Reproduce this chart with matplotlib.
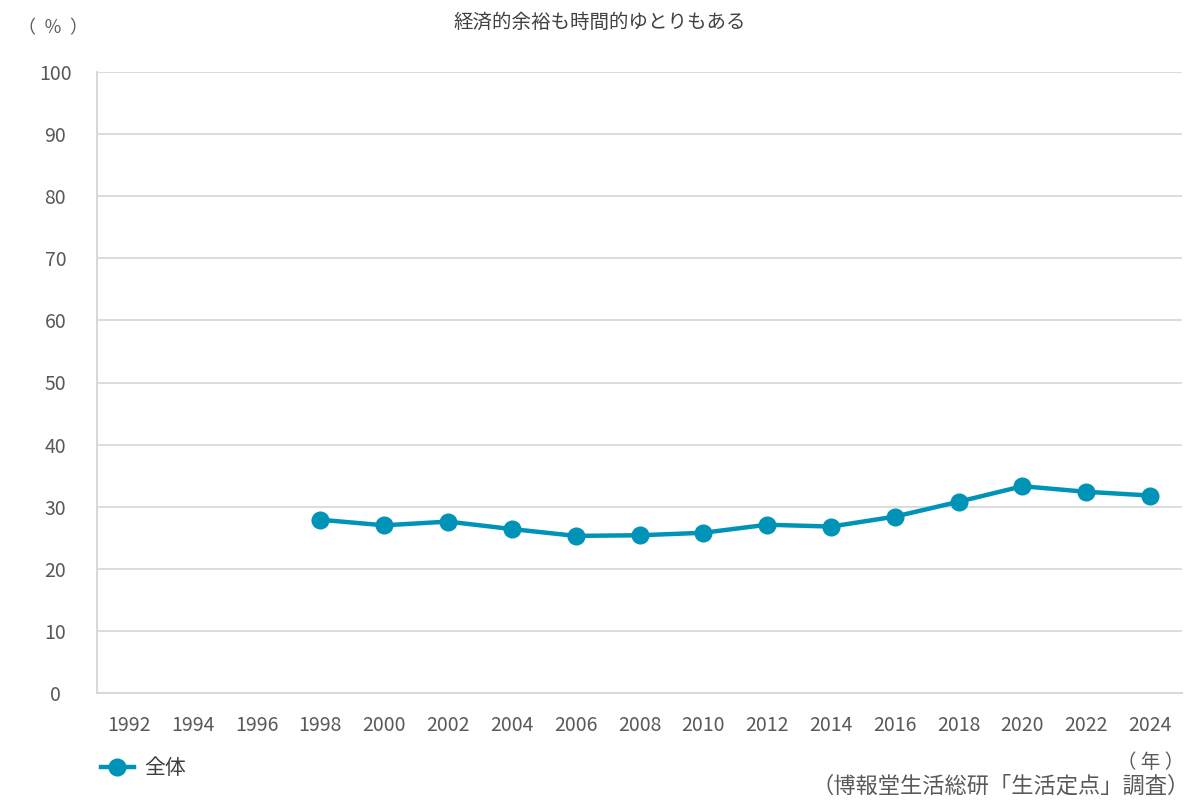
import numpy as np
import matplotlib.pyplot as plt

plt.rcParams['font.family'] = ['Noto Sans CJK JP', 'DejaVu Sans']

# データ（博報堂生活総研「生活定点」調査）
years = ['1992', '1994', '1996', '1998', '2000', '2002', '2004', '2006', '2008',
         '2010', '2012', '2014', '2016', '2018', '2020', '2022', '2024']
values = [np.nan, np.nan, np.nan, 27.9, 27.0, 27.6, 26.4, 25.3, 25.4,
          25.8, 27.1, 26.8, 28.4, 30.8, 33.3, 32.4, 31.8]
series_name = '全体'
title = '経済的余裕も時間的ゆとりもある'

line_color = '#0093b8'
grid_color = '#d9d9d9'
text_color = '#595959'

fig = plt.figure(figsize=(12, 8), dpi=100)
ax = fig.add_axes([97/1200, 1 - 693/800, (1182-97)/1200, (693-72)/800])

x = np.arange(len(years))
ax.plot(x, values, color=line_color, lw=3.2, marker='o', ms=12,
        label=series_name, zorder=3)

ax.set_xlim(-0.5, len(years) - 0.5)
ax.set_ylim(0, 100)
ax.set_yticks(np.arange(0, 101, 10))
ax.set_xticks(x)
ax.set_xticklabels(years)
ax.grid(axis='y', color=grid_color, lw=1.3)
ax.set_axisbelow(True)

for side in ['top', 'right']:
    ax.spines[side].set_visible(False)
for side in ['left', 'bottom']:
    ax.spines[side].set_color(grid_color)
    ax.spines[side].set_linewidth(1.5)

ax.tick_params(axis='both', length=0, colors=text_color, labelsize=14)
ax.tick_params(axis='y', pad=30)
ax.tick_params(axis='x', pad=16)
for lab in ax.get_yticklabels():
    lab.set_horizontalalignment('center')

fig.text(0.5, 1 - 22/800, title, ha='center', va='center', fontsize=14, color='#404040')
fig.text(53/1200, 1 - 28/800, '（  ％  ）', ha='center', va='center', fontsize=13, color=text_color)
fig.text(1151/1200, 1 - 762/800, '（ 年 ）', ha='center', va='center', fontsize=14, color=text_color)
fig.text(1190/1200, 1 - 786/800, '（博報堂生活総研「生活定点」調査）', ha='right', va='center',
         fontsize=16, color=text_color)

leg = fig.legend(loc='center left', bbox_to_anchor=(82/1200, 1 - 768/800), frameon=False,
                 fontsize=15, handlelength=1.6, handletextpad=0.5)
for t in leg.get_texts():
    t.set_color('#404040')

fig.savefig('out.png', dpi=100)
